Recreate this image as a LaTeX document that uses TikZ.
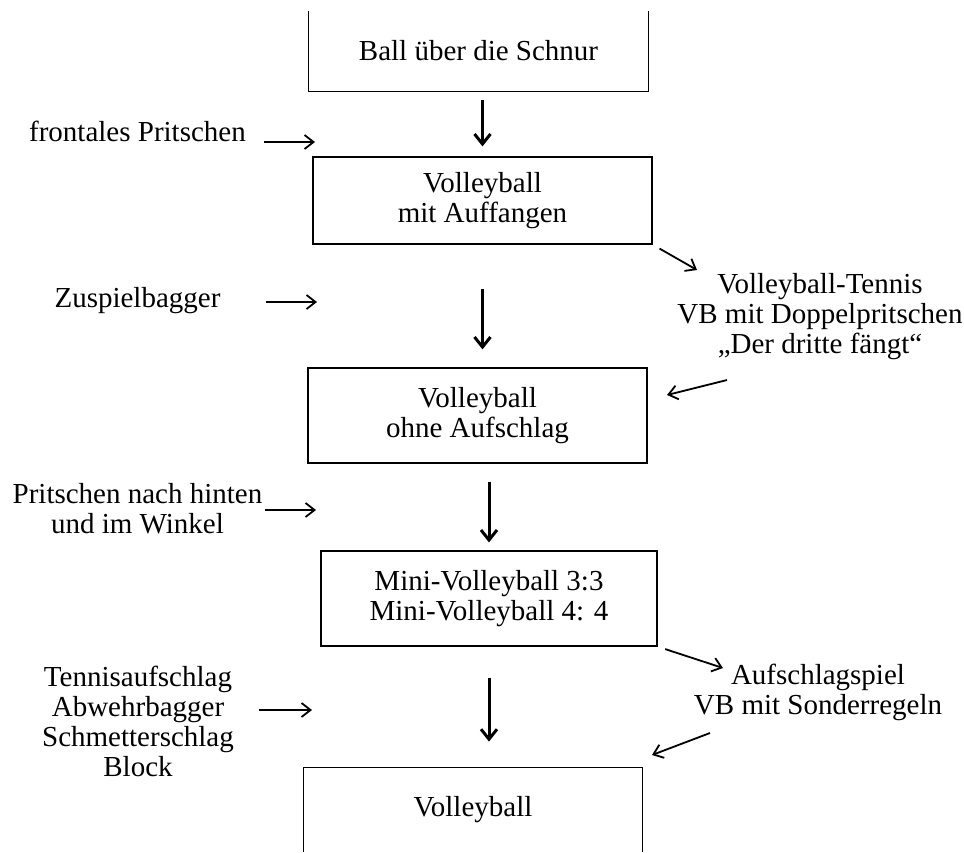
\documentclass[tikz,border=0pt]{standalone}
\usepackage{fontspec}
\setmainfont{Liberation Serif}
\usetikzlibrary{arrows.meta}
\tikzstyle{stage} = [rectangle, minimum width=169.5pt, minimum height=40pt, text centered, align=center, inner sep=0pt, font=\fontsize{14.5}{15}\selectfont]
\tikzstyle{stagebox} = [stage, draw, line width=0.6pt]
\tikzstyle{boxline} = [line width=0.6pt]
\tikzstyle{note} = [align=center, inner sep=0pt, font=\fontsize{14.5}{15}\selectfont]
\tikzstyle{flow} = [line width=1.5pt,-{Straight Barb[length=5pt,width=8pt]}]
\tikzstyle{feed} = [line width=0.9pt,-{Straight Barb[length=4.5pt,width=7pt]}]

\begin{document}
\begin{tikzpicture}[x=0.5pt,y=-0.5pt]
\useasboundingbox (0,0) rectangle (964,852);

% Spielreihe
\node (schnur) [stage] at (478.5,51) {Ball über die Schnur};
\node (auffangen) [stagebox, node distance=74.75pt, below of=schnur, xshift=2pt, minimum height=43.5pt] {Volleyball\\mit Auffangen};
\node (ohne) [stagebox, node distance=107.5pt, below of=auffangen, xshift=-2.5pt, minimum height=47.5pt] {Volleyball\\ohne Aufschlag};
\node (mini) [stagebox, node distance=91.5pt, below of=ohne, xshift=5.75pt, minimum width=168pt, minimum height=47.5pt] {Mini-Volleyball 3:3\\Mini-Volleyball 4: 4};
\node (volley) [stage, node distance=105.75pt, below of=mini, xshift=-8pt, minimum width=169pt, minimum height=42pt] {Volleyball};
\draw[boxline] (schnur.north west) -- (schnur.south west) -- (schnur.south east) -- (schnur.north east);
\draw[boxline] (volley.south west) -- (volley.north west) -- (volley.north east) -- (volley.south east);

% Techniken links
\node (frontal) [note] at (137.5,131) {frontales Pritschen};
\node (zuspiel) [note] at (137.5,301) {Zuspielbagger};
\node (hinten) [note] at (137.5,509) {Pritschen nach hinten\\und im Winkel};
\node (technik) [note] at (138,721) {Tennisaufschlag\\Abwehrbagger\\Schmetterschlag\\Block};

% Varianten rechts
\node (tennis) [note] at (820,317) {Volleyball-Tennis\\VB mit Doppelpritschen\\„Der dritte fängt“};
\node (aufschlag) [note] at (818,692) {Aufschlagspiel\\VB mit Sonderregeln};

\coordinate (frontalTip) at (315,142);
\coordinate (zuspielTip) at (317,302);
\coordinate (hintenTip) at (316,510);
\coordinate (technikTip) at (312,710);
\coordinate (tennisIn) at (697,270);
\coordinate (tennisOut) at (727,380);
\coordinate (ohneIn) at (667,395);
\coordinate (aufIn) at (723,668);
\coordinate (aufOut) at (710,733);
\coordinate (volleyIn) at (652,755);

\draw[flow, shorten <=4.5pt, shorten >=5pt] (schnur.south -| auffangen.north) -- (auffangen.north);
\draw[flow, shorten <=22pt, shorten >=9pt] (auffangen.south) -- (auffangen.south |- ohne.north);
\draw[flow, shorten <=9pt, shorten >=4pt] (ohne.south -| mini.north) -- (mini.north);
\draw[flow, shorten <=15.5pt, shorten >=13pt] (mini.south) -- (mini.south |- volley.north);

\draw[feed, shorten <=9pt] (frontal.east |- frontalTip) -- (frontalTip);
\draw[feed, shorten <=22.5pt] (zuspiel.east |- zuspielTip) -- (zuspielTip);
\draw[feed, shorten <=1pt] (hinten.east |- hintenTip) -- (hintenTip);
\draw[feed, shorten <=12.5pt] (technik.east |- technikTip) -- (technikTip);

\draw[feed, shorten <=4pt] (auffangen.south east) -- (tennisIn);
\draw[feed] (tennisOut) -- (ohneIn);
\draw[feed, shorten <=4pt] (mini.south east) -- (aufIn);
\draw[feed] (aufOut) -- (volleyIn);

\end{tikzpicture}
\end{document}
